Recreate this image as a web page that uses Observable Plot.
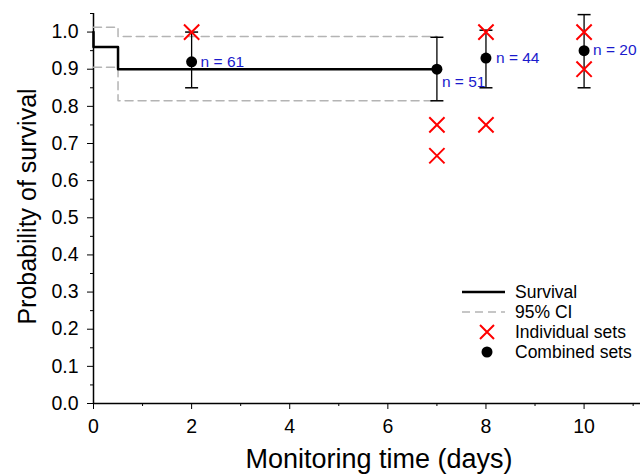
<!DOCTYPE html>
<html><head>
<meta charset="utf-8">
<script src="https://cdn.jsdelivr.net/npm/d3@7"></script>
<script src="https://cdn.jsdelivr.net/npm/@observablehq/plot@0.6"></script>
<style>
body{margin:0;background:#fff;font-family:"Liberation Sans",Arial,sans-serif}
#wrap{position:relative;width:640px;height:474px}
#legend{position:absolute;left:460px;top:282px;font-size:17.5px;color:#000;line-height:20px}
#legend .row{display:flex;align-items:center;height:20px}
#legend svg{width:51px;height:20px;margin-right:4px;flex:none}
</style>
</head><body>
<div id="wrap"><div id="chart"></div>
<div id="legend">
  <div class="row"><svg><line x1="2" x2="45" y1="10" y2="10" stroke="#000" stroke-width="2.5"/></svg>Survival</div>
  <div class="row"><svg><line x1="2" x2="45" y1="10" y2="10" stroke="#b4b4b4" stroke-width="1.5" stroke-dasharray="8,5"/></svg>95% CI</div>
  <div class="row"><svg><path d="M20,3L34,17M34,3L20,17" stroke="#ff0000" stroke-width="2" fill="none"/></svg>Individual sets</div>
  <div class="row"><svg><circle cx="27" cy="10" r="5.5" fill="#000"/></svg>Combined sets</div>
</div>
</div>
<script>
// Kaplan-Meier survival step curve
const survTime = [0, 0, 0.5, 7];
const survProb = [1.0, 0.96, 0.90, 0.90];
const ciTime   = [0, 0.5, 7];
const ciUpper  = [1.013, 0.988, 0.988];
const ciLower  = [0.905, 0.815, 0.815];
// Combined sets
const combTime = [2, 7, 8, 10];
const combProb = [0.92, 0.90, 0.93, 0.95];
const combLow  = [0.85, 0.815, 0.85, 0.85];
const combHigh = [1.0, 0.986, 1.005, 1.047];
const combN    = [61, 51, 44, 20];
// Individual sets
const indTime = [2, 7, 7, 8, 8, 10, 10];
const indProb = [1.0, 0.75, 0.667, 1.0, 0.75, 1.0, 0.9];
// Ticks
const xMajor = [0, 2, 4, 6, 8, 10];
const xMinor = [1, 3, 5, 7, 9, 11];
const yMajor = [0, 0.1, 0.2, 0.3, 0.4, 0.5, 0.6, 0.7, 0.8, 0.9, 1.0];
const yMinor = [0.05, 0.15, 0.25, 0.35, 0.45, 0.55, 0.65, 0.75, 0.85, 0.95, 1.05];

const surv = survTime.map((t, i) => ({t, s: survProb[i]}));
const ci = ciTime.map((t, i) => ({t, hi: ciUpper[i], lo: ciLower[i]}));
const comb = combTime.map((t, i) => ({t, p: combProb[i], lo: combLow[i], hi: combHigh[i], n: combN[i]}));
const ind = indTime.map((t, i) => ({t, p: indProb[i]}));
const labelOffsets = {61: [9, 0], 51: [5, 13], 44: [10, 0], 20: [9, -1]};

const cap = {draw(ctx, size) { const w = Math.sqrt(size / Math.PI); ctx.moveTo(-w, 0); ctx.lineTo(w, 0); }};

const chart = Plot.plot({
  width: 640, height: 474,
  marginLeft: 93, marginRight: 0, marginTop: 13, marginBottom: 71,
  style: {fontFamily: '"Liberation Sans", Arial, sans-serif', background: "#fff", color: "#000"},
  x: {domain: [0, 11.15]},
  y: {domain: [0, 1.05]},
  marks: [
    Plot.axisX(xMajor, {tickSize: 6, fontSize: 19.5, tickPadding: 10, label: null, tickFormat: d => d}),
    Plot.axisX(xMinor, {tickSize: 3, text: null, label: null}),
    Plot.axisY(yMajor, {tickSize: 6, fontSize: 19.5, tickPadding: 9, label: null, tickFormat: d3.format(".1f")}),
    Plot.axisY(yMinor, {tickSize: 3, text: null, label: null}),
    Plot.ruleX([0], {stroke: "#000", strokeWidth: 1.5}),
    Plot.ruleY([0], {stroke: "#000", strokeWidth: 1.5}),
    Plot.line(ci, {x: "t", y: "hi", curve: "step-after", stroke: "#b4b4b4", strokeWidth: 1.5, strokeDasharray: "8,5"}),
    Plot.line(ci, {x: "t", y: "lo", curve: "step-after", stroke: "#b4b4b4", strokeWidth: 1.5, strokeDasharray: "8,5"}),
    Plot.line(surv, {x: "t", y: "s", curve: "step-after", stroke: "#000", strokeWidth: 2.5}),
    Plot.ruleX(comb, {x: "t", y1: "lo", y2: "hi", stroke: "#000", strokeWidth: 1.3}),
    Plot.dot(comb, {x: "t", y: "lo", symbol: cap, r: 6.5, stroke: "#000", strokeWidth: 1.5, fill: "none"}),
    Plot.dot(comb, {x: "t", y: "hi", symbol: cap, r: 6.5, stroke: "#000", strokeWidth: 1.5, fill: "none"}),
    Plot.dot(ind, {x: "t", y: "p", symbol: "times", r: 7, stroke: "#ff0000", strokeWidth: 2}),
    Plot.dot(comb, {x: "t", y: "p", r: 5.5, fill: "#000"}),
    ...comb.map(d => Plot.text([d], {x: "t", y: "p", text: d => `n = ${d.n}`, textAnchor: "start", fill: "#1a1acc", fontSize: 15.5, dx: labelOffsets[d.n][0], dy: labelOffsets[d.n][1]})),
    Plot.text(["Probability of survival"], {frameAnchor: "left", textAnchor: "middle", lineAnchor: "middle", rotate: -90, dx: -66, dy: -2, fontSize: 25, fill: "#000"}),
    Plot.text(["Monitoring time (days)"], {frameAnchor: "bottom", lineAnchor: "bottom", dy: 64, dx: 12, fontSize: 27, fill: "#000"})
  ]
});
document.getElementById("chart").appendChild(chart);
</script>
</body></html>
